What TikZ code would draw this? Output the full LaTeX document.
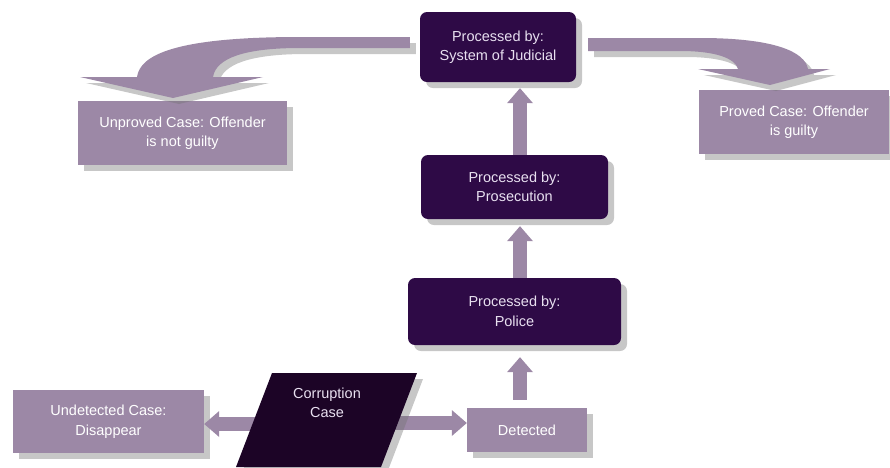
\documentclass[tikz,border=0pt]{standalone}
\usepackage{fontspec}
\setmainfont{Liberation Sans}
\usetikzlibrary{arrows.meta,shadows}
\definecolor{darkbox}{RGB}{46,10,70}
\definecolor{darkcase}{RGB}{28,4,38}
\definecolor{pale}{RGB}{156,136,166}
\definecolor{darktext}{RGB}{232,224,240}
\tikzset{
  shade/.style={drop shadow={shadow xshift=6pt, shadow yshift=-6pt, fill=black!55, opacity=.4}},
  stage/.style={shade, fill=darkbox, rounded corners=7pt, text=darktext, align=center,
    font=\fontsize{14.5}{19.5}\selectfont, inner sep=0pt},
  outcome/.style={shade, fill=pale, text=white, align=center,
    font=\fontsize{14.5}{19.5}\selectfont, inner sep=0pt},
  flow/.style={draw=pale, line width=14pt, -{Triangle[width=26pt,length=15pt,line width=0pt]}},
}

\begin{document}
\begin{tikzpicture}[x=1pt, y=-1pt]
    \useasboundingbox (0,0) rectangle (890,467);
    % processing chain
    \node[stage, minimum width=156pt, minimum height=70pt] (judicial) at (498,47) {Processed by:\\System of Judicial};
    \node[stage, minimum width=187pt, minimum height=64pt] (prosecution) at (514.5,187) {Processed by:\\Prosecution};
    \node[stage, minimum width=213pt, minimum height=67pt] (police) at (514.5,311.5) {Processed by:\\Police};
    % outcomes
    \node[outcome, minimum width=209pt, minimum height=64pt] (unproved) at (182.5,133) {Unproved Case: Offender\\is not guilty};
    \node[outcome, minimum width=190pt, minimum height=64pt] (proved) at (794,122) {Proved Case: Offender\\is guilty};
    \node[outcome, minimum width=191pt, minimum height=63pt] (undetected) at (108.5,421.5) {Undetected Case:\\Disappear};
    \node[outcome, minimum width=120pt, minimum height=44pt] (detected) at (527,430) {Detected};
    % straight arrows
    \coordinate (spine) at (520,0);
    \draw[flow] (spine |- police.north) -- ([yshift=-7pt]spine |- prosecution.south);
    \draw[flow] (spine |- prosecution.north) -- ([yshift=-6pt]spine |- judicial.south);
    \draw[flow] ([yshift=8pt]spine |- detected.north) -- ([yshift=-12pt]spine |- police.south);
    \coordinate (cleft) at (265,424);
    \coordinate (cright) at (393,423);
    \draw[flow] (cleft) -- (cleft -| undetected.east);
    \draw[flow] (cright) -- (cright -| detected.west);
    % curved arrows
    \fill[pale, shade] ([xshift=-10pt]judicial.west |- 0,37) -- (300,37)
        .. controls (175,37) and (140,55) .. (137,77) -- (80,77) -- (173,98) -- (263,77) -- (213,77)
        .. controls (216,58) and (245,48) .. (300,48) -- ([xshift=-10pt]judicial.west |- 0,48) -- cycle;
    \fill[pale, shade] ([xshift=12pt]judicial.east |- 0,38) -- (700,38)
        .. controls (775,38) and (805,52) .. (808,69) -- (830,69) -- (770,85) -- (698,69) -- (738,69)
        .. controls (735,58) and (715,51) .. (680,51) -- ([xshift=12pt]judicial.east |- 0,51) -- cycle;
    % corruption case
    \fill[darkcase, shade] (272,373) -- (417,373) -- (381,467) -- (236,467) -- cycle;
    \node[text=darktext, align=center, font=\fontsize{14.5}{19.5}\selectfont] (corruption) at (327,403) {Corruption\\Case};
\end{tikzpicture}
\end{document}
